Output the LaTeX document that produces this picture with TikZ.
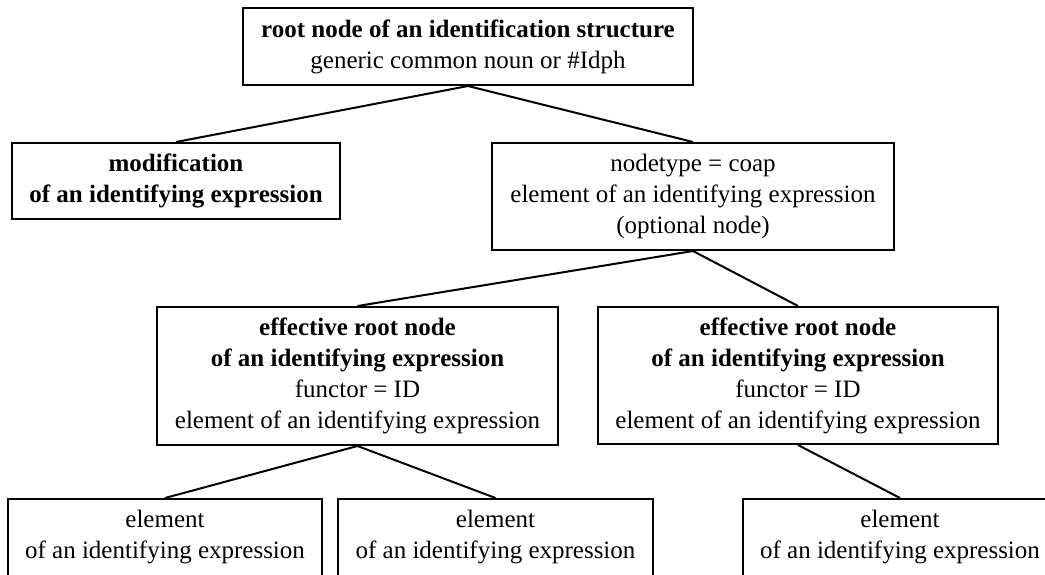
\documentclass[tikz,border=0pt]{standalone}
\usepackage{fontspec}
\setmainfont{Liberation Serif}
\begin{document}
\begin{tikzpicture}[x=1pt,y=-1pt,
  box/.style={draw, line width=2pt, rectangle, align=center, inner sep=0pt,
    font=\fontsize{25}{31}\selectfont},
  link/.style={line width=2pt}]
\useasboundingbox (0,0) rectangle (1045,574);
\clip (0,0) rectangle (1045,574);
\node[box, minimum width=450pt, minimum height=77pt] (root) at (468,46.5)
  {\textbf{root node of an identification structure}\\generic common noun or \#Idph};
\node[box, minimum width=328pt, minimum height=76pt] (mod) at (176,181)
  {\textbf{modification}\\\textbf{of an identifying expression}};
\node[box, minimum width=402pt, minimum height=107pt] (coap) at (693,196.5)
  {nodetype = coap\\element of an identifying expression\\(optional node)};
\node[box, minimum width=401pt, minimum height=138pt] (eff1) at (357.5,376)
  {\textbf{effective root node}\\\textbf{of an identifying expression}\\functor = ID\\element of an identifying expression};
\node[box, minimum width=400pt, minimum height=137pt] (eff2) at (798,375.5)
  {\textbf{effective root node}\\\textbf{of an identifying expression}\\functor = ID\\element of an identifying expression};
\node[box, minimum width=314pt, minimum height=77pt] (b1) at (165,537.5)
  {element\\of an identifying expression};
\node[box, minimum width=315pt, minimum height=77pt] (b2) at (495.5,537.5)
  {element\\of an identifying expression};
\node[box, minimum width=314pt, minimum height=77pt] (b3) at (900,537.5)
  {element\\of an identifying expression};
\draw[link] (root.south) -- (mod.north);
\draw[link] (root.south) -- (coap.north);
\draw[link] (coap.south) -- (eff1.north);
\draw[link] (coap.south) -- (eff2.north);
\draw[link] (eff1.south) -- (b1.north);
\draw[link] (eff1.south) -- (b2.north);
\draw[link] (eff2.south) -- (b3.north);
\end{tikzpicture}
\end{document}
